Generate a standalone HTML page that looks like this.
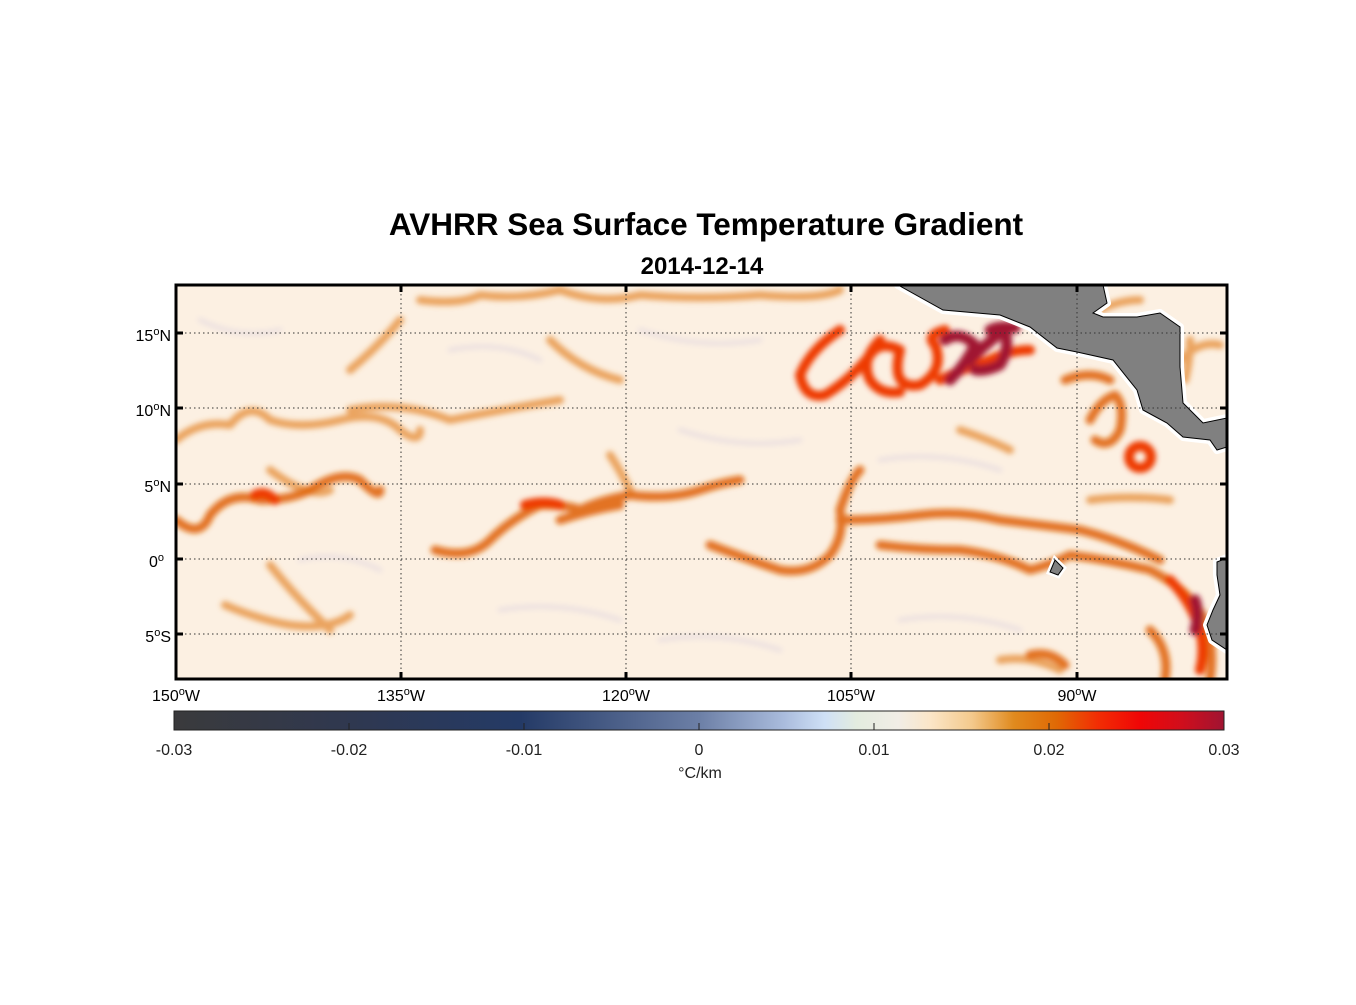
<!DOCTYPE html>
<html><head><meta charset="utf-8"><style>
body{margin:0;background:#fff;}
svg text{font-family:"Liberation Sans",Arial,sans-serif;}
</style></head><body>
<svg width="1356" height="1000" viewBox="0 0 1356 1000" xmlns="http://www.w3.org/2000/svg">
<defs>
<filter id="b" x="-10%" y="-10%" width="120%" height="120%"><feGaussianBlur stdDeviation="2.6"/></filter>
<clipPath id="c"><rect x="176" y="285" width="1051" height="394"/></clipPath>
<linearGradient id="cb" x1="0" x2="1" y1="0" y2="0">
<stop offset="0" stop-color="#3a3a3c"/>
<stop offset="0.17" stop-color="#2f3850"/>
<stop offset="0.33" stop-color="#243a66"/>
<stop offset="0.5" stop-color="#6c7fa6"/>
<stop offset="0.58" stop-color="#a9bbdc"/>
<stop offset="0.62" stop-color="#cfe0f6"/>
<stop offset="0.65" stop-color="#e3ecdf"/>
<stop offset="0.69" stop-color="#f1ede6"/>
<stop offset="0.72" stop-color="#fbe6c8"/>
<stop offset="0.76" stop-color="#f3c98c"/>
<stop offset="0.8" stop-color="#e08a1e"/>
<stop offset="0.84" stop-color="#e06a05"/>
<stop offset="0.88" stop-color="#f22d04"/>
<stop offset="0.92" stop-color="#f00606"/>
<stop offset="0.96" stop-color="#d00e1c"/>
<stop offset="1" stop-color="#a01432"/>
</linearGradient>
</defs>
<text x="706" y="235" text-anchor="middle" font-size="31.5" font-weight="bold">AVHRR Sea Surface Temperature Gradient</text>
<text x="702" y="274" text-anchor="middle" font-size="24" font-weight="bold">2014-12-14</text>
<g clip-path="url(#c)">
<rect x="176" y="285" width="1051" height="394" fill="#fcf0e2"/>
<g fill="none" stroke-linecap="round" stroke-linejoin="round" filter="url(#b)">
<g stroke="#e9dde0" stroke-width="5" opacity="0.8">
<path d="M200 320 Q240 340 280 330 M450 350 Q500 340 540 360 M640 330 Q700 350 760 340 M680 430 Q740 450 800 440 M500 610 Q560 600 620 620 M660 640 Q720 630 780 650 M900 620 Q960 610 1020 630 M300 560 Q340 550 380 570 M880 460 Q940 450 1000 470"/>
</g>
<g stroke="#e48a30" stroke-width="8" opacity="0.75">
<path d="M176 440 Q200 420 230 425 Q250 400 270 420 Q300 430 340 420 Q380 410 400 430 Q420 445 420 430"/>
<path d="M350 410 Q400 400 450 420 Q500 410 560 400"/>
<path d="M420 300 Q460 305 480 295 Q520 300 560 290 Q600 305 640 295 Q700 300 760 295 Q820 300 840 290"/>
<path d="M350 370 Q380 345 400 320 M550 340 Q580 370 620 380"/>
<path d="M270 470 Q310 500 330 490 M225 605 Q260 620 290 625 Q330 630 350 615"/>
<path d="M270 565 Q290 590 310 610 Q320 620 330 630"/>
<path d="M960 430 Q990 440 1010 450 M1090 500 Q1130 495 1170 500 M1000 660 Q1030 655 1060 670"/>
<path d="M610 455 Q620 470 630 490 M1100 310 Q1120 300 1140 300 M1190 340 Q1190 360 1185 380 M1180 360 Q1200 340 1220 345"/>
</g>
<g stroke="#e0650c" stroke-width="9" opacity="0.9">
<path d="M176 520 Q200 540 210 515 Q230 490 260 500 Q290 500 310 490 Q340 470 360 480 Q380 500 380 490"/>
<path d="M435 550 Q470 560 490 540 Q510 520 540 505 Q570 505 580 510 Q600 500 630 495 Q670 500 700 490 Q720 483 740 480 M560 520 Q590 510 620 505"/>
<path d="M710 545 Q750 560 780 570 Q810 575 830 555 Q845 535 840 510 Q850 480 860 470"/>
<path d="M840 520 Q880 520 920 515 Q960 510 1000 520 Q1040 525 1080 530 Q1120 540 1160 560"/>
<path d="M880 545 Q920 550 960 550 Q1000 555 1030 570 Q1050 565 1070 555 Q1110 560 1150 570 Q1190 590 1205 620 Q1215 650 1210 679"/>
<path d="M1030 655 Q1050 650 1065 665"/>
<path d="M1090 420 Q1100 400 1115 395 Q1125 405 1120 430 Q1110 450 1095 440 M1065 380 Q1090 370 1110 380"/>
<path d="M1150 630 Q1170 650 1165 679"/>
</g>
<g stroke="#ee3a05" stroke-width="10">
<path d="M840 330 Q810 350 800 375 Q805 400 825 395 Q850 380 870 355 Q880 340 900 350 Q890 390 920 385 Q945 370 935 345 Q925 335 945 330"/>
<path d="M880 340 Q860 360 870 380 Q880 395 900 392"/>
<circle cx="1140" cy="457" r="11"/>
<path d="M1170 580 Q1190 600 1200 630 Q1205 650 1200 670"/>
<path d="M525 505 Q545 500 560 505 M255 495 Q265 490 275 500"/>
<path d="M940 380 Q960 370 990 360 Q1010 350 1030 350"/>
</g>
<g stroke="#a01432" stroke-width="11">
<path d="M945 340 Q960 330 975 345 Q965 365 950 380 M970 360 Q990 340 1005 330 Q1010 350 1000 365 Q985 372 975 370"/>
<path d="M990 330 Q1000 325 1015 328"/>
<path d="M1195 600 Q1200 615 1195 630"/>
</g>
</g>
<path d="M898 285 L943 310 L1000 315 L1030 327 L1057 348 L1077 352 L1113 360 L1137 390 L1143 410 L1167 423 L1183 437 L1210 440 L1217 450 L1227 447 L1227 418 L1203 423 L1183 403 L1180 367 L1180 327 L1160 313 L1137 317 L1103 317 L1093 313 L1107 303 L1103 285 Z" fill="#808080" stroke="#fff" stroke-width="8" stroke-linejoin="round"/>
<path d="M898 285 L943 310 L1000 315 L1030 327 L1057 348 L1077 352 L1113 360 L1137 390 L1143 410 L1167 423 L1183 437 L1210 440 L1217 450 L1227 447 L1227 418 L1203 423 L1183 403 L1180 367 L1180 327 L1160 313 L1137 317 L1103 317 L1093 313 L1107 303 L1103 285 Z" fill="#808080" stroke="#000" stroke-width="1"/>
<path d="M1217 562 L1227 558 L1227 650 L1212 640 L1207 625 L1213 610 L1220 595 L1217 575 Z" fill="#808080" stroke="#fff" stroke-width="8" stroke-linejoin="round"/>
<path d="M1217 562 L1227 558 L1227 650 L1212 640 L1207 625 L1213 610 L1220 595 L1217 575 Z" fill="#808080" stroke="#000" stroke-width="1"/>
<path d="M1055 560 L1063 568 L1058 575 L1050 572 Z" fill="#808080" stroke="#fff" stroke-width="6"/>
<path d="M1055 560 L1063 568 L1058 575 L1050 572 Z" fill="#808080" stroke="#000" stroke-width="1"/>
</g>
<g stroke="#333" stroke-width="1" stroke-dasharray="1.5 3">
<line x1="401" y1="285" x2="401" y2="679"/><line x1="626" y1="285" x2="626" y2="679"/><line x1="851" y1="285" x2="851" y2="679"/><line x1="1077" y1="285" x2="1077" y2="679"/>
<line x1="176" y1="333" x2="1227" y2="333"/><line x1="176" y1="408" x2="1227" y2="408"/><line x1="176" y1="484" x2="1227" y2="484"/><line x1="176" y1="559" x2="1227" y2="559"/><line x1="176" y1="634" x2="1227" y2="634"/>
</g>
<rect x="176" y="285" width="1051" height="394" fill="none" stroke="#000" stroke-width="3"/>
<g stroke="#000" stroke-width="3">
<path d="M401 285v7M626 285v7M851 285v7M1077 285v7M401 679v-7M626 679v-7M851 679v-7M1077 679v-7"/>
<path d="M176 333h7M176 408h7M176 484h7M176 559h7M176 634h7M1227 333h-7M1227 408h-7M1227 484h-7M1227 559h-7M1227 634h-7"/>
</g>
<g font-size="16" fill="#000">
<text x="171" y="341" text-anchor="end">15<tspan font-size="11" dy="-6">o</tspan><tspan dy="6">N</tspan></text>
<text x="171" y="416" text-anchor="end">10<tspan font-size="11" dy="-6">o</tspan><tspan dy="6">N</tspan></text>
<text x="171" y="492" text-anchor="end">5<tspan font-size="11" dy="-6">o</tspan><tspan dy="6">N</tspan></text>
<text x="164" y="567" text-anchor="end">0<tspan font-size="11" dy="-6">o</tspan></text>
<text x="171" y="642" text-anchor="end">5<tspan font-size="11" dy="-6">o</tspan><tspan dy="6">S</tspan></text>
<text x="176" y="701" text-anchor="middle">150<tspan font-size="11" dy="-6">o</tspan><tspan dy="6">W</tspan></text>
<text x="401" y="701" text-anchor="middle">135<tspan font-size="11" dy="-6">o</tspan><tspan dy="6">W</tspan></text>
<text x="626" y="701" text-anchor="middle">120<tspan font-size="11" dy="-6">o</tspan><tspan dy="6">W</tspan></text>
<text x="851" y="701" text-anchor="middle">105<tspan font-size="11" dy="-6">o</tspan><tspan dy="6">W</tspan></text>
<text x="1077" y="701" text-anchor="middle">90<tspan font-size="11" dy="-6">o</tspan><tspan dy="6">W</tspan></text>
</g>
<rect x="174" y="711" width="1050" height="19" fill="url(#cb)" stroke="#222" stroke-width="1"/>
<g stroke="#222" stroke-width="1"><path d="M349 730v-7M524 730v-7M699 730v-7M874 730v-7M1049 730v-7"/></g>
<g font-size="16" fill="#222" text-anchor="middle">
<text x="174" y="755">-0.03</text><text x="349" y="755">-0.02</text><text x="524" y="755">-0.01</text><text x="699" y="755">0</text><text x="874" y="755">0.01</text><text x="1049" y="755">0.02</text><text x="1224" y="755">0.03</text>
<text x="700" y="778">°C/km</text>
</g>
</svg>
</body></html>
